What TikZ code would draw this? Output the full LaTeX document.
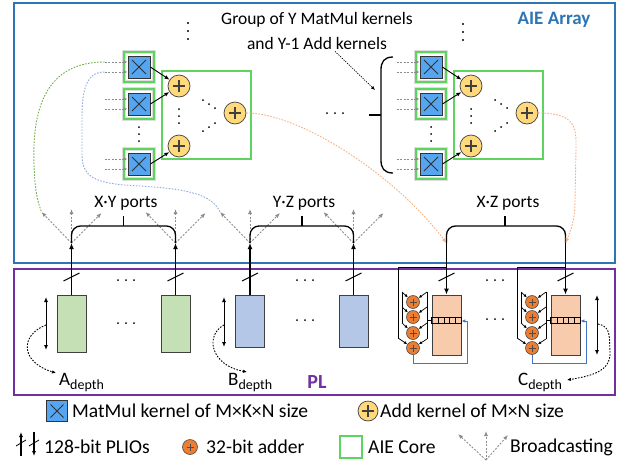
\documentclass[tikz,border=0pt]{standalone}
\usepackage{fontspec}
\setmainfont{Carlito}
\usetikzlibrary{arrows.meta,calc}
\definecolor{aieblue}{HTML}{2E75B6}
\definecolor{plpurple}{HTML}{7030A0}
\definecolor{kblue}{HTML}{55A5F0}
\definecolor{kgreen}{HTML}{5FD35F}
\definecolor{addyel}{HTML}{FFD97A}
\definecolor{addorg}{HTML}{ED7D31}
\definecolor{afill}{HTML}{C5E0B4}
\definecolor{bfill}{HTML}{B4C7E7}
\definecolor{cfill}{HTML}{F8CBAD}
\definecolor{bgray}{HTML}{8C8C8C}
\definecolor{dgreen}{HTML}{70AD47}
\definecolor{dblue}{HTML}{8FAADC}
\definecolor{dorange}{HTML}{F4B183}
\definecolor{fblue}{HTML}{4472C4}
\tikzset{
  txt/.style={font=\fontsize{17.5}{20}\selectfont, inner sep=0pt},
  legtxt/.style={font=\fontsize{19.6}{22}\selectfont, inner sep=0pt, anchor=west},
  deptxt/.style={font=\fontsize{19}{22}\selectfont, inner sep=0pt, anchor=base west},
  mm/.style={draw=black!80, fill=kblue, minimum size=22pt, inner sep=0pt, line width=0.8pt,
    path picture={\draw[line width=0.8pt]
      ([shift={(4pt,4pt)}]path picture bounding box.south west) -- ([shift={(-4pt,-4pt)}]path picture bounding box.north east)
      ([shift={(4pt,-4pt)}]path picture bounding box.north west) -- ([shift={(-4pt,4pt)}]path picture bounding box.south east);}},
  kframe/.style={draw=kgreen, line width=1.4pt, minimum size=30pt, inner sep=0pt,
    preaction={draw=black!13, line width=3.4pt}},
  corebox/.style={draw=kgreen, line width=1.4pt, inner sep=0pt, fill=white},
  adder/.style={circle, draw=black!75, fill=addyel, minimum size=22pt, inner sep=0pt, line width=0.7pt,
    path picture={\draw[line width=1.1pt]
      ([xshift=-6pt]path picture bounding box.center) -- ([xshift=6pt]path picture bounding box.center)
      ([yshift=-6pt]path picture bounding box.center) -- ([yshift=6pt]path picture bounding box.center);}},
  sadder/.style={circle, draw=black!70, fill=addorg, minimum size=13pt, inner sep=0pt, line width=0.6pt,
    path picture={\draw[line width=0.8pt]
      ([xshift=-3.5pt]path picture bounding box.center) -- ([xshift=3.5pt]path picture bounding box.center)
      ([yshift=-3.5pt]path picture bounding box.center) -- ([yshift=3.5pt]path picture bounding box.center);}},
  buf/.style={draw=black!75, line width=0.9pt, minimum width=29pt, inner sep=0pt},
  inarr/.style={draw=bgray, line width=0.9pt, dash pattern=on 2pt off 1.5pt, -{Latex[length=4pt,width=3.5pt]}},
  bcast/.style={draw=bgray, line width=0.9pt, dash pattern=on 2pt off 1.5pt, -{Latex[length=5pt,width=4pt]}},
  karr/.style={line width=0.9pt, -{Latex[length=5pt,width=4pt]}},
  port/.style={line width=1.7pt, -{Latex[length=6pt,width=5pt]}},
  brc/.style={line width=1.3pt, rounded corners=9pt},
  dotc/.style={line width=0.9pt, dash pattern=on 1.6pt off 1.4pt},
  sarr/.style={line width=0.7pt, -{Latex[length=3.5pt,width=3pt]}},
  dbl/.style={line width=1pt, {Latex[length=5pt,width=4pt]}-{Latex[length=5pt,width=4pt]}}
}
\begin{document}
\begin{tikzpicture}[x=1pt,y=-1pt]
\useasboundingbox (0,0) rectangle (624,464);
% containers
\draw[aieblue, line width=2.5pt] (14,3) rectangle (615,263);
\draw[plpurple, line width=2.5pt] (14,269) rectangle (615,395);
\node[font=\bfseries\fontsize{19}{22}\selectfont, text=aieblue, inner sep=0pt] (aie) at (554,20) {AIE Array};
\node[font=\bfseries\fontsize{20}{22}\selectfont, text=plpurple, inner sep=0pt] (pl) at (317,382) {PL};

% group text
\node[txt] (g1) at (317,20) {Group of Y MatMul kernels};
\node[txt] (g2) at (317,43) {and Y-1 Add kernels};
\coordinate (bt) at (375,90);
\draw[line width=0.7pt, dash pattern=on 1.2pt off 1.2pt, -{Latex[length=4pt,width=3.5pt]}] ($(g2.south)+(18,2)$) -- (bt);

% top dots
\foreach \y in {23,31,39} {\fill (188,\y) circle (1.1pt); \fill (463,\y+1) circle (1.1pt);}

% kernel groups
\foreach \g/\dx in {L/0,R/292} {
  \node[corebox, minimum width=89pt, minimum height=88pt] (b\g) at (206.5+\dx,115) {};
  \foreach \i/\y in {1/67,2/104,3/164} {
    \node[kframe] (k\g\i) at (139+\dx,\y) {};
    \node[mm] (m\g\i) at (139+\dx,\y) {};
    \draw[inarr] ([shift={(-23,-5)}]m\g\i.west) -- ([shift={(0,-5)}]m\g\i.west);
    \draw[inarr] ([shift={(-23,5)}]m\g\i.west) -- ([shift={(0,5)}]m\g\i.west);
  }
  \node[adder] (a\g1) at (179+\dx,86) {};
  \node[adder] (a\g2) at (179+\dx,146) {};
  \node[adder] (a\g f) at (235+\dx,113) {};
  \draw[karr] (m\g1.east) -- (a\g1);
  \draw[karr] (m\g2.east) -- (a\g1);
  \draw[karr] (m\g3.east) -- (a\g2);
  \foreach \y in {127,134,141} {\fill (139+\dx,\y) circle (1pt);}
  \foreach \y in {109,116,123} {\fill (179+\dx,\y) circle (1pt);}
  \foreach \x/\y in {203/100,209/104,215/108,203/131,209/127,215/123} {\fill (\x+\dx,\y) circle (1pt);}
}
% brace of right group
\draw[line width=1.3pt] (393,57) .. controls (384,57) and (381,62) .. (381,70) -- (381,160) .. controls (381,168) and (384,173) .. (393,173);
\draw[line width=1.3pt] (369,115) -- (381,115);
\foreach \x in {327,335,343} {\fill (\x,113) circle (1pt);}

% PL buffers
\node[buf, fill=afill, minimum height=57pt] (A1) at (71.5,323.5) {};
\node[buf, fill=afill, minimum height=57pt] (A2) at (175.5,323.5) {};
\node[buf, fill=bfill, minimum height=52pt] (B1) at (250,321) {};
\node[buf, fill=bfill, minimum height=52pt] (B2) at (353.5,321) {};
\node[buf, fill=cfill, minimum height=60pt] (C1) at (446.5,325) {};
\node[buf, fill=cfill, minimum height=60pt] (C2) at (565.5,325) {};

% port tops
\coordinate (pA1) at (71.5,243);
\coordinate (pA2) at (175.5,243);
\coordinate (pB1) at (250,243);
\coordinate (pB2) at (353.5,243);
\coordinate (pC1) at (446.5,243);
\coordinate (pC2) at (565.5,243);

\foreach \b in {A1,A2,B1,B2} {
  \draw[port] (\b.north) -- (p\b);
  \draw[line width=1pt] ($(p\b)+(-8,38)$) -- ($(p\b)+(8,30)$);
  \draw[bcast] (p\b) -- ++(-30,-31);
  \draw[bcast] (p\b) -- ++(0,-34);
  \draw[bcast] (p\b) -- ++(30,-30);
}
\foreach \b in {C1,C2} {
  \draw[port] (p\b) -- (\b.north);
  \draw[line width=1pt] ($(p\b)+(-8,38)$) -- ($(p\b)+(8,30)$);
}

% port braces
\draw[brc] (pA1) |- (123.5,226) -| (pA2);
\draw[line width=1.3pt] (123.5,226) -- (123.5,216);
\node[txt] (xy) at (126,203) {X·Y ports};
\draw[brc] (pB1) |- (302,226) -| (pB2);
\draw[line width=1.3pt] (302,226) -- (302,216);
\node[txt] (yz) at (304,203) {Y·Z ports};
\draw[brc] (pC1) |- (505,226) -| (pC2);
\draw[line width=1.3pt] (505,226) -- (505,216);
\node[txt] (xz) at (508,203) {X·Z ports};

% PL dots
\foreach \x in {118,126,134} {\fill (\x,280) circle (1pt); \fill (\x,323) circle (1pt);}
\foreach \x in {297,305,313} {\fill (\x,280) circle (1pt); \fill (\x,320) circle (1pt);}
\foreach \x in {487,495,503} {\fill (\x,280) circle (1pt); \fill (\x,319) circle (1pt);}

% C accumulation structures
\foreach \c/\dx in {C1/0,C2/119} {
  \draw[line width=0.9pt] (\c.west |- 0,317) rectangle (\c.east |- 0,323);
  \foreach \x in {438,444,449.5,455} {\draw[line width=0.8pt] (\x+\dx,317) -- (\x+\dx,323);}
  \node[sadder] (s\c1) at (413+\dx,302) {};
  \node[sadder] (s\c2) at (413+\dx,317) {};
  \node[sadder] (s\c3) at (413+\dx,333) {};
  \node[sadder] (s\c4) at (413+\dx,348) {};
  \draw[line width=0.7pt] (446.5+\dx,267) -- (398+\dx,267) -- (398+\dx,338);
  \draw[sarr] (398+\dx,338) -- (s\c4);
  \draw[line width=0.7pt] (402+\dx,292) -- (402+\dx,323);
  \draw[sarr] (402+\dx,292) -- (s\c1);
  \draw[sarr] (402+\dx,307) -- (s\c2);
  \draw[sarr] (402+\dx,323) -- (s\c3);
  \draw[line width=0.7pt] (427+\dx,292) -- (427+\dx,339);
  \draw[sarr] (427+\dx,292) -- (s\c1);
  \draw[sarr] (427+\dx,307) -- (s\c2);
  \draw[sarr] (427+\dx,323) -- (s\c3);
  \draw[sarr] (427+\dx,339) -- (s\c4);
  \draw[line width=0.7pt] (427+\dx,320) -- (\c.west |- 0,320);
  \draw[fblue, line width=1pt, -{Latex[length=4pt,width=3.5pt]}] (s\c4.south) -- (413+\dx,363) -- (467+\dx,363) -- (467+\dx,321) -- (\c.east |- 0,321);
}

% depth arrows
\draw[dbl] (46,297) -- (46,350);
\draw[dbl] (224,297) -- (224,347);
\draw[dbl] (597,295) -- (597,355);
\node[deptxt] (ad) at (59,385) {A\raisebox{-4pt}{\fontsize{14}{14}\selectfont depth}};
\node[deptxt] (bd) at (228,385) {B\raisebox{-4pt}{\fontsize{14}{14}\selectfont depth}};
\node[deptxt] (cd) at (518,385) {C\raisebox{-4pt}{\fontsize{14}{14}\selectfont depth}};
\draw[dotc, -{Latex[length=4pt,width=3.5pt]}] (46,325) .. controls (20,335) and (20,362) .. (56,373);
\draw[dotc, -{Latex[length=4pt,width=3.5pt]}] (224,325) .. controls (205,335) and (210,365) .. (247,372);
\draw[dotc, -{Latex[length=4pt,width=3.5pt]}] (598,324) .. controls (612,326) and (609,340) .. (610,352) .. controls (611,372) and (590,376) .. (567,380);

% long dotted curves
\draw[dotc, dgreen] ([shift={(-23,-5)}]mL1.west) .. controls (45,62) and (32,110) .. (34,165) .. controls (35,190) and (37,200) .. ($(pA1)+(-30,-31)$);
\draw[dotc, dblue] ([shift={(-23,5)}]mL1.west) .. controls (85,72) and (82,92) .. (82,120) -- (82,155) .. controls (82,180) and (100,184) .. (140,186) .. controls (190,189) and (212,195) .. ($(pB1)+(-30,-31)$);
\draw[dotc, dorange, -{Latex[length=5pt,width=4pt]}] (aLf.east) .. controls (300,113) and (395,175) .. (pC1);
\draw[dotc, dorange, -{Latex[length=5pt,width=4pt]}] (aRf.east) .. controls (578,113) and (576,130) .. (576,150) -- (575,200) .. controls (575,222) and (570,232) .. (pC2);

% legend
\node[mm, minimum size=21pt] (lmm) at (57,411) {};
\node[legtxt] (lt1) at (72,411) {MatMul kernel of M×K×N size};
\node[adder, minimum size=20pt] (lad) at (368,411) {};
\node[legtxt] (lt2) at (380,411) {Add kernel of M×N size};
\draw[line width=1.2pt, -{Latex[length=5pt,width=4pt]}] (21,456) -- (21,432);
\draw[line width=1.2pt, -{Latex[length=5pt,width=4pt]}] (34,432) -- (34,456);
\draw[line width=0.8pt] (16,446) -- (26,440);
\draw[line width=0.8pt] (29,446) -- (39,440);
\node[legtxt] (lt3) at (44,447) {128-bit PLIOs};
\node[sadder, minimum size=15pt] (lsa) at (190,447) {};
\node[legtxt] (lt4) at (206,447) {32-bit adder};
\node[corebox, minimum size=22pt] (lcore) at (351,447) {};
\node[legtxt] (lt5) at (368,447) {AIE Core};
\coordinate (lbc) at (486,460);
\draw[bcast] (lbc) -- (458,434);
\draw[bcast] (lbc) -- (486,431);
\draw[bcast] (lbc) -- (508,435);
\node[legtxt] (lt6) at (510,447) {Broadcasting};
\end{tikzpicture}
\end{document}
